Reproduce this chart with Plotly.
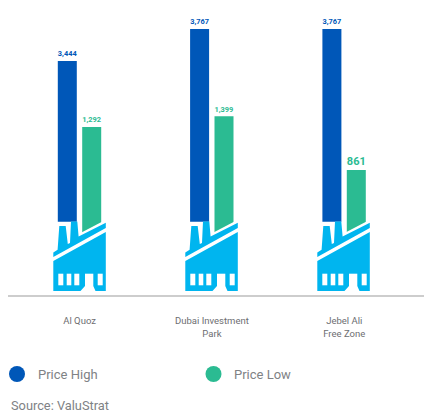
import plotly.graph_objects as go

W, H = 424, 413

# Rents per zone
zones = ["Al Quoz", "Dubai Investment<br>Park", "Jebel Ali<br>Free Zone"]
price_high = [3444, 3767, 3767]
price_low = [1292, 1399, 861]
high_labels = ["3,444", "3,767", "3,767"]
low_labels = ["1,292", "1,399", "861"]

BLUE = "#0057B8"
GREEN = "#2BBB92"
CYAN = "#00B5EF"
GREY = "#6D6E71"
SPACING = 132.3
ICON_SHIFT = [0, 132, 264]


def fx(px):
    return px / W


def fy(py):
    return 1 - py / H


def path(points):
    return "M " + " L ".join(f"{fx(x):.5f},{fy(y):.5f}" for x, y in points) + " Z"


def poly(points, color):
    return dict(type="path", xref="paper", yref="paper", path=path(points),
                fillcolor=color, line=dict(width=0), layer="above")


def factory(dx):
    """Factory pictogram that sits under each pair of bars."""
    p = lambda pts: [(x + dx, y) for x, y in pts]
    out = []
    # white wedge cutting the slanted foot of the low-price bar
    out.append(poly(p([(80.5, 233), (102.5, 221.5), (102.5, 238), (80.5, 238)]), "white"))
    # roof band with two chimneys
    out.append(poly(p([(53.3, 252.5), (57.6, 249.8), (59.3, 226), (65.7, 226), (67.8, 244),
                       (70, 243), (71, 221.5), (77.3, 221.5), (78.6, 236.5),
                       (105.8, 222.8), (105.8, 228), (53.3, 257)]), CYAN))
    # main hall
    out.append(poly(p([(53.3, 261), (105.8, 232), (105.8, 291), (95.5, 291), (93.3, 286),
                       (85, 286), (80.5, 291), (53.3, 291)]), CYAN))
    # door opening
    out.append(poly(p([(85, 273.7), (93.3, 273.7), (93.3, 286), (85, 286)]), "white"))
    # windows
    for a, b in [(58.3, 63.3), (66.7, 71.3), (74.3, 79.3), (97.7, 102.7)]:
        out.append(poly(p([(a, 273.7), (b, 273.7), (b, 285.3), (a, 285.3)]), "white"))
    return out


bar_w = 19 / SPACING
fig = go.Figure()
fig.add_bar(x=zones, y=price_high, name="Price High", yaxis="y", width=bar_w,
            offset=-21.8 / SPACING, marker=dict(color=BLUE, line=dict(width=0)),
            text=high_labels, textposition="outside", cliponaxis=False,
            textfont=dict(family="Roboto", size=13.5, color=BLUE, weight="bold"))
fig.add_bar(x=zones, y=price_low, name="Price Low", yaxis="y2", width=bar_w,
            offset=2.6 / SPACING, marker=dict(color=GREEN, line=dict(width=0)),
            text=low_labels, textposition="outside", cliponaxis=False,
            textfont=dict(family="Roboto", size=13.5, color=GREEN, weight="bold"))

shapes = []
for dx in ICON_SHIFT:
    shapes += factory(dx)
for cx, color in [(17, BLUE), (213.5, GREEN)]:
    shapes.append(dict(type="circle", xref="paper", yref="paper", x0=fx(cx - 8), x1=fx(cx + 8),
                       y0=fy(382), y1=fy(366), fillcolor=color, line=dict(width=0)))

notes = [("Price High", 35.5, 374.5, 13), ("Price Low", 232, 374.5, 13), ("Source: ValuStrat", 8.5, 405.5, 12.8)]
annotations = [dict(text=t, xref="paper", yref="paper", x=fx(x), y=fy(y), xanchor="left",
                    yanchor="middle", showarrow=False,
                    font=dict(family="Roboto", size=s, color="#808285"))
               for t, x, y, s in notes]

blue_px = 32 / 323
green_px = 0.1
fig.update_layout(
    width=W, height=H, margin=dict(l=0, r=0, t=0, b=0, pad=0),
    paper_bgcolor="white", plot_bgcolor="rgba(0,0,0,0)", showlegend=False,
    barmode="overlay", shapes=shapes, annotations=annotations,
    font=dict(family="Roboto", color=GREY),
    xaxis=dict(domain=[fx(8), 1], anchor="free", position=fy(296), type="category",
               range=[-(79.6 - 8) / SPACING, (424 - 79.6) / SPACING],
               showline=True, linecolor="#CDCDCD", linewidth=2, showgrid=False, zeroline=False,
               ticks="outside", ticklen=16, tickcolor="rgba(0,0,0,0)",
               tickfont=dict(family="Roboto", size=9.5, color=GREY)),
    yaxis=dict(domain=[fy(221.7), 1], range=[3444 - (221.7 - 61) / blue_px, 3444 + 61 / blue_px],
               visible=False),
    yaxis2=dict(domain=[fy(238), 1], range=[861 - (238 - 170) / green_px, 861 + 170 / green_px],
                visible=False, anchor="x"),
)
fig.write_html("out.html", config={"displayModeBar": False})
